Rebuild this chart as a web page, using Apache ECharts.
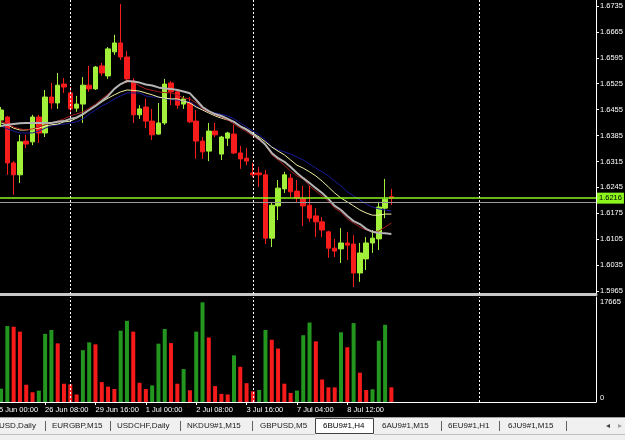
<!DOCTYPE html>
<html>
<head>
<meta charset="utf-8">
<script src="https://cdn.jsdelivr.net/npm/echarts@6/dist/echarts.min.js"></script>
<style>
html, body { margin: 0; padding: 0; background: #000; }
#chart { width: 625px; height: 440px; }
</style>
</head>
<body>
<div id="chart"></div>
<script>
// 6BU9#1, H4 -- candles as [open, close, low, high]
const candles = [
  [1.6427, 1.6454, 1.6408, 1.6462], [1.6435, 1.6311, 1.6279, 1.6438], [1.6311, 1.6279, 1.6225, 1.6316],
  [1.6279, 1.6368, 1.6257, 1.6387], [1.6370, 1.6362, 1.6351, 1.6387], [1.6368, 1.6435, 1.6359, 1.6441],
  [1.6435, 1.6392, 1.6365, 1.6441], [1.6392, 1.6489, 1.6381, 1.6508], [1.6489, 1.6473, 1.6457, 1.6527],
  [1.6473, 1.6521, 1.6457, 1.6554], [1.6524, 1.6516, 1.6500, 1.6540], [1.6500, 1.6457, 1.6441, 1.6516],
  [1.6459, 1.6470, 1.6449, 1.6492], [1.6470, 1.6521, 1.6419, 1.6543], [1.6521, 1.6511, 1.6503, 1.6573],
  [1.6511, 1.6570, 1.6508, 1.6573], [1.6573, 1.6554, 1.6546, 1.6581], [1.6546, 1.6619, 1.6538, 1.6624],
  [1.6611, 1.6635, 1.6603, 1.6657], [1.6635, 1.6597, 1.6589, 1.6740], [1.6597, 1.6538, 1.6527, 1.6613],
  [1.6532, 1.6441, 1.6419, 1.6540], [1.6441, 1.6457, 1.6430, 1.6467], [1.6462, 1.6424, 1.6405, 1.6484],
  [1.6424, 1.6387, 1.6373, 1.6457], [1.6389, 1.6419, 1.6387, 1.6473], [1.6419, 1.6524, 1.6414, 1.6538],
  [1.6527, 1.6503, 1.6467, 1.6532], [1.6503, 1.6467, 1.6457, 1.6511], [1.6470, 1.6484, 1.6457, 1.6492],
  [1.6473, 1.6422, 1.6419, 1.6489], [1.6424, 1.6370, 1.6322, 1.6454], [1.6370, 1.6341, 1.6322, 1.6381],
  [1.6343, 1.6397, 1.6316, 1.6419], [1.6397, 1.6387, 1.6381, 1.6419], [1.6335, 1.6381, 1.6319, 1.6384],
  [1.6378, 1.6392, 1.6357, 1.6395], [1.6389, 1.6338, 1.6335, 1.6414], [1.6338, 1.6322, 1.6295, 1.6357],
  [1.6324, 1.6316, 1.6305, 1.6351], [1.6284, 1.6279, 1.6273, 1.6311], [1.6284, 1.6279, 1.6246, 1.6300],
  [1.6279, 1.6108, 1.6092, 1.6292], [1.6108, 1.6197, 1.6084, 1.6203], [1.6195, 1.6243, 1.6157, 1.6265],
  [1.6241, 1.6279, 1.6230, 1.6287], [1.6270, 1.6233, 1.6219, 1.6281], [1.6235, 1.6216, 1.6203, 1.6265],
  [1.6214, 1.6195, 1.6141, 1.6249], [1.6197, 1.6162, 1.6152, 1.6249], [1.6168, 1.6152, 1.6111, 1.6189],
  [1.6152, 1.6130, 1.6111, 1.6165], [1.6125, 1.6081, 1.6055, 1.6128], [1.6081, 1.6073, 1.6057, 1.6106],
  [1.6079, 1.6095, 1.6041, 1.6135], [1.6095, 1.6089, 1.6049, 1.6125], [1.6092, 1.6014, 1.5976, 1.6116],
  [1.6014, 1.6068, 1.5990, 1.6095], [1.6052, 1.6095, 1.6022, 1.6111], [1.6095, 1.6108, 1.6068, 1.6130],
  [1.6106, 1.6192, 1.6076, 1.6206], [1.6189, 1.6213, 1.6162, 1.6268], [1.6220, 1.6216, 1.6197, 1.6241]
];

// moving averages
const maBlue = [
  1.6411, 1.6403, 1.6397, 1.6392, 1.6392, 1.6392, 1.6397, 1.6405, 1.6411, 1.6414,
  1.6416, 1.6419, 1.6422, 1.6430, 1.6443, 1.6454, 1.6465, 1.6473, 1.6484, 1.6492,
  1.6500, 1.6500, 1.6500, 1.6492, 1.6489, 1.6489, 1.6485, 1.6482, 1.6481, 1.6478,
  1.6476, 1.6465, 1.6454, 1.6450, 1.6446, 1.6442, 1.6438, 1.6430, 1.6419, 1.6408,
  1.6397, 1.6387, 1.6373, 1.6354, 1.6346, 1.6341, 1.6335, 1.6327, 1.6319, 1.6308,
  1.6297, 1.6287, 1.6276, 1.6262, 1.6249, 1.6233, 1.6222, 1.6211, 1.6200, 1.6192,
  1.6187, 1.6184, 1.6181
];
const maYellow = [
  1.6419, 1.6414, 1.6405, 1.6400, 1.6400, 1.6403, 1.6405, 1.6411, 1.6414, 1.6416,
  1.6422, 1.6424, 1.6432, 1.6441, 1.6454, 1.6465, 1.6476, 1.6486, 1.6495, 1.6503,
  1.6508, 1.6507, 1.6505, 1.6500, 1.6495, 1.6489, 1.6486, 1.6484, 1.6484, 1.6478,
  1.6473, 1.6462, 1.6454, 1.6446, 1.6438, 1.6432, 1.6427, 1.6422, 1.6411, 1.6403,
  1.6392, 1.6381, 1.6368, 1.6354, 1.6343, 1.6333, 1.6319, 1.6305, 1.6297, 1.6287,
  1.6276, 1.6262, 1.6246, 1.6230, 1.6216, 1.6206, 1.6195, 1.6184, 1.6176, 1.6170,
  1.6170, 1.6173, 1.6173
];
const maRed = [
  1.6424, 1.6416, 1.6408, 1.6403, 1.6400, 1.6403, 1.6408, 1.6414, 1.6419, 1.6424,
  1.6430, 1.6438, 1.6443, 1.6449, 1.6459, 1.6470, 1.6484, 1.6497, 1.6511, 1.6524,
  1.6535, 1.6530, 1.6519, 1.6511, 1.6507, 1.6503, 1.6501, 1.6500, 1.6495, 1.6486,
  1.6484, 1.6473, 1.6457, 1.6449, 1.6441, 1.6435, 1.6427, 1.6416, 1.6405, 1.6395,
  1.6384, 1.6373, 1.6360, 1.6333, 1.6319, 1.6305, 1.6289, 1.6276, 1.6268, 1.6249,
  1.6235, 1.6222, 1.6208, 1.6189, 1.6178, 1.6160, 1.6149, 1.6138, 1.6130, 1.6125,
  1.6127, 1.6138, 1.6149
];
const maGray = [
  1.6411, 1.6414, 1.6416, 1.6418, 1.6419, 1.6419, 1.6419, 1.6419, 1.6419, 1.6422,
  1.6424, 1.6430, 1.6434, 1.6443, 1.6454, 1.6465, 1.6478, 1.6492, 1.6511, 1.6524,
  1.6532, 1.6531, 1.6528, 1.6523, 1.6520, 1.6515, 1.6512, 1.6511, 1.6508, 1.6504,
  1.6499, 1.6481, 1.6462, 1.6451, 1.6443, 1.6438, 1.6430, 1.6422, 1.6410, 1.6401,
  1.6389, 1.6376, 1.6360, 1.6338, 1.6324, 1.6314, 1.6300, 1.6284, 1.6270, 1.6257,
  1.6243, 1.6230, 1.6214, 1.6195, 1.6184, 1.6168, 1.6154, 1.6146, 1.6133, 1.6125,
  1.6122, 1.6121, 1.6119
];

const volumes = [
  2370, 13460, 13340, 12470, 3060, 1730, 2020, 12070, 12760, 10390,
  3240, 3120, 1330, 9180, 10570, 10220, 3520, 2720, 2300, 12640,
  14380, 12470, 3410, 2300, 2940, 10340, 12940, 10440, 3240, 5840,
  2080, 12470, 17665, 11430, 2820, 1440, 1330, 8260, 6240, 3340,
  1900, 2130, 12760, 11030, 9470, 3240, 1610, 2030, 11830, 14080,
  10740, 3980, 2600, 2580, 12350, 9700, 13980, 5200, 2130, 2250,
  10860, 13680, 2600
];

const timeLabels = ['25 Jun 00:00', '26 Jun 08:00', '29 Jun 16:00', '1 Jul 00:00',
  '2 Jul 08:00', '3 Jul 16:00', '7 Jul 04:00', '8 Jul 12:00'];
const timeLabelBars = [-1, 7, 15, 23, 31, 39, 47, 55];
const priceTicks = [1.5965, 1.6035, 1.6105, 1.6175, 1.6245, 1.6315, 1.6385,
  1.6455, 1.6525, 1.6595, 1.6665, 1.6735];
const volumeTicks = [0, 17665];
const bidPrice = 1.6216;
const levelPrice = 1.6206;
const separatorBars = [11, 40, 76];
const tabs = ['USD,Daily', 'EURGBP,M15', 'USDCHF,Daily', 'NKDU9#1,M15', 'GBPUSD,M5',
  '6BU9#1,H4', '6AU9#1,M15', '6EU9#1,H1', '6JU9#1,M15'];
const activeTab = '6BU9#1,H4';

// one empty slot before the first bar, empty chart shift after the last
const lead = 1;
const slots = 96;
const cats = [];
for (let k = 0; k < slots; k++) cats.push(String(k));
const labelAt = {};
timeLabelBars.forEach((b, j) => { labelAt[b + lead] = timeLabels[j]; });

const candleData = candles.map((c, i) => [i + lead, c[0], c[1], c[2], c[3]]);
const lineData = arr => arr.map((v, i) => [i + lead, v]);
const volData = volumes.map((v, i) => ({
  value: [i + lead, v],
  itemStyle: { color: (i === 0 || v > volumes[i - 1]) ? '#23961f' : '#f61b1b' }
}));

const FONT = 'Liberation Sans';
const sepLines = separatorBars.map(b => ({ xAxis: b + lead }));

const maSeries = (data, color, width) => ({
  type: 'line', xAxisIndex: 0, yAxisIndex: 0, data: lineData(data),
  symbol: 'none', silent: true, z: 4,
  lineStyle: { color: color, width: width }
});

// tab strip
const tabX = [-1, 52, 117, 187, 260, 323, 382, 448, 508];
const tabSepX = [45, 110, 180, 252, 441, 499, 566];
const graphic = [
  { type: 'rect', shape: { x: 0, y: 417, width: 625, height: 23 }, style: { fill: '#f0f0f0' } },
  { type: 'line', shape: { x1: 0, y1: 417.5, x2: 625, y2: 417.5 }, style: { stroke: '#a0a0a0' } },
  { type: 'rect', shape: { x: 315.5, y: 418.5, width: 58, height: 15 }, style: { fill: '#fff', stroke: '#404040' } },
  { type: 'line', shape: { x1: 0, y1: 434.5, x2: 315, y2: 434.5 }, style: { stroke: '#c0c0c0' } },
  { type: 'line', shape: { x1: 374, y1: 434.5, x2: 625, y2: 434.5 }, style: { stroke: '#c0c0c0' } }
];
tabs.forEach((t, j) => {
  graphic.push({ type: 'text', x: tabX[j], y: 426, style: {
    text: t, fill: t === activeTab ? '#000' : '#202020', font: '8px "' + FONT + '"', verticalAlign: 'middle' } });
});
tabSepX.forEach(x => {
  graphic.push({ type: 'line', shape: { x1: x + 0.5, y1: 421, x2: x + 0.5, y2: 431 }, style: { stroke: '#606060' } });
});
graphic.push({ type: 'text', x: 606, y: 426, style: { text: '◂', fill: '#404040', font: '8px "DejaVu Sans"', verticalAlign: 'middle' } });
graphic.push({ type: 'text', x: 618, y: 426, style: { text: '▸', fill: '#a0a0a0', font: '8px "DejaVu Sans"', verticalAlign: 'middle' } });

const option = {
  backgroundColor: '#000',
  animation: false,
  grid: [
    { left: -8.4, right: 29, top: 0, height: 294, outerBoundsMode: 'none', containLabel: false },
    { left: -8.4, right: 29, top: 297, height: 105, outerBoundsMode: 'none', containLabel: false }
  ],
  xAxis: [
    {
      type: 'category', gridIndex: 0, data: cats, boundaryGap: true,
      axisLine: { show: true, lineStyle: { color: '#c8c8c8', width: 3 } },
      axisTick: { show: false }, axisLabel: { show: false }, splitLine: { show: false }
    },
    {
      type: 'category', gridIndex: 1, data: cats, boundaryGap: true,
      axisLine: { show: true, lineStyle: { color: '#fff', width: 1 } },
      axisTick: {
        show: true, alignWithLabel: true, length: 3, lineStyle: { color: '#fff' },
        interval: idx => labelAt[idx] !== undefined
      },
      axisLabel: {
        show: true, color: '#fff', fontFamily: FONT, fontSize: 7.5, align: 'left', margin: 4,
        hideOverlap: false,
        interval: idx => labelAt[idx] !== undefined,
        formatter: (v, idx) => labelAt[idx] || ''
      },
      splitLine: { show: false }
    }
  ],
  yAxis: [
    {
      type: 'value', gridIndex: 0, position: 'right', min: 1.59572, max: 1.6751,
      axisLine: { show: true, lineStyle: { color: '#fff' } },
      axisTick: { show: true, length: 3, customValues: priceTicks, lineStyle: { color: '#fff' } },
      axisLabel: {
        color: '#fff', fontFamily: FONT, fontSize: 7.5, margin: 4,
        customValues: priceTicks, formatter: v => v.toFixed(4)
      },
      splitLine: { show: false }
    },
    {
      type: 'value', gridIndex: 1, position: 'right', min: 0, max: 18604,
      axisLine: { show: true, lineStyle: { color: '#fff' } },
      axisTick: { show: false },
      axisLabel: {
        color: '#fff', fontFamily: FONT, fontSize: 7.5, margin: 4,
        customValues: volumeTicks,
        formatter: v => v === 0 ? '{z|0}' : String(v),
        rich: { z: { color: '#fff', fontFamily: FONT, fontSize: 7.5, padding: [0, 0, 8, 0] } }
      },
      splitLine: { show: false }
    }
  ],
  graphic: graphic,
  series: [
    {
      type: 'candlestick', xAxisIndex: 0, yAxisIndex: 0, data: candleData,
      encode: { x: 0, y: [1, 2, 3, 4] }, barWidth: 5, z: 3,
      itemStyle: { color: '#a3f03a', color0: '#f81c1c', borderColor: '#a3f03a', borderColor0: '#f81c1c', borderWidth: 1 },
      markLine: {
        silent: true, symbol: 'none', animation: false, precision: 4,
        data: [
          { yAxis: bidPrice, lineStyle: { color: '#8cf51e', width: 1.5, type: 'solid' },
            label: { show: true, position: 'end', distance: 1, formatter: bidPrice.toFixed(4),
              color: '#000', backgroundColor: '#8cf51e', fontFamily: FONT, fontSize: 7.5, padding: [2, 2, 1, 2] } },
          { yAxis: levelPrice, lineStyle: { color: '#9a9a9a', width: 1, type: 'solid' }, label: { show: false } }
        ].concat(sepLines.map(s => Object.assign({}, s, {
          lineStyle: { color: '#fff', width: 1, type: [2, 2] }, label: { show: false } })))
      }
    },
    maSeries(maBlue, '#1a1a9c', 1),
    maSeries(maYellow, '#f2f0a0', 1),
    maSeries(maRed, '#a61c1c', 1),
    maSeries(maGray, '#b4b4b4', 2),
    {
      type: 'bar', xAxisIndex: 1, yAxisIndex: 1, data: volData, barWidth: 4,
      markLine: {
        silent: true, symbol: 'none', animation: false,
        data: sepLines.map(s => Object.assign({}, s, {
          lineStyle: { color: '#fff', width: 1, type: [2, 2] }, label: { show: false } }))
      }
    }
  ]
};

const chart = echarts.init(document.getElementById('chart'));
chart.setOption(option);
</script>
</body>
</html>
